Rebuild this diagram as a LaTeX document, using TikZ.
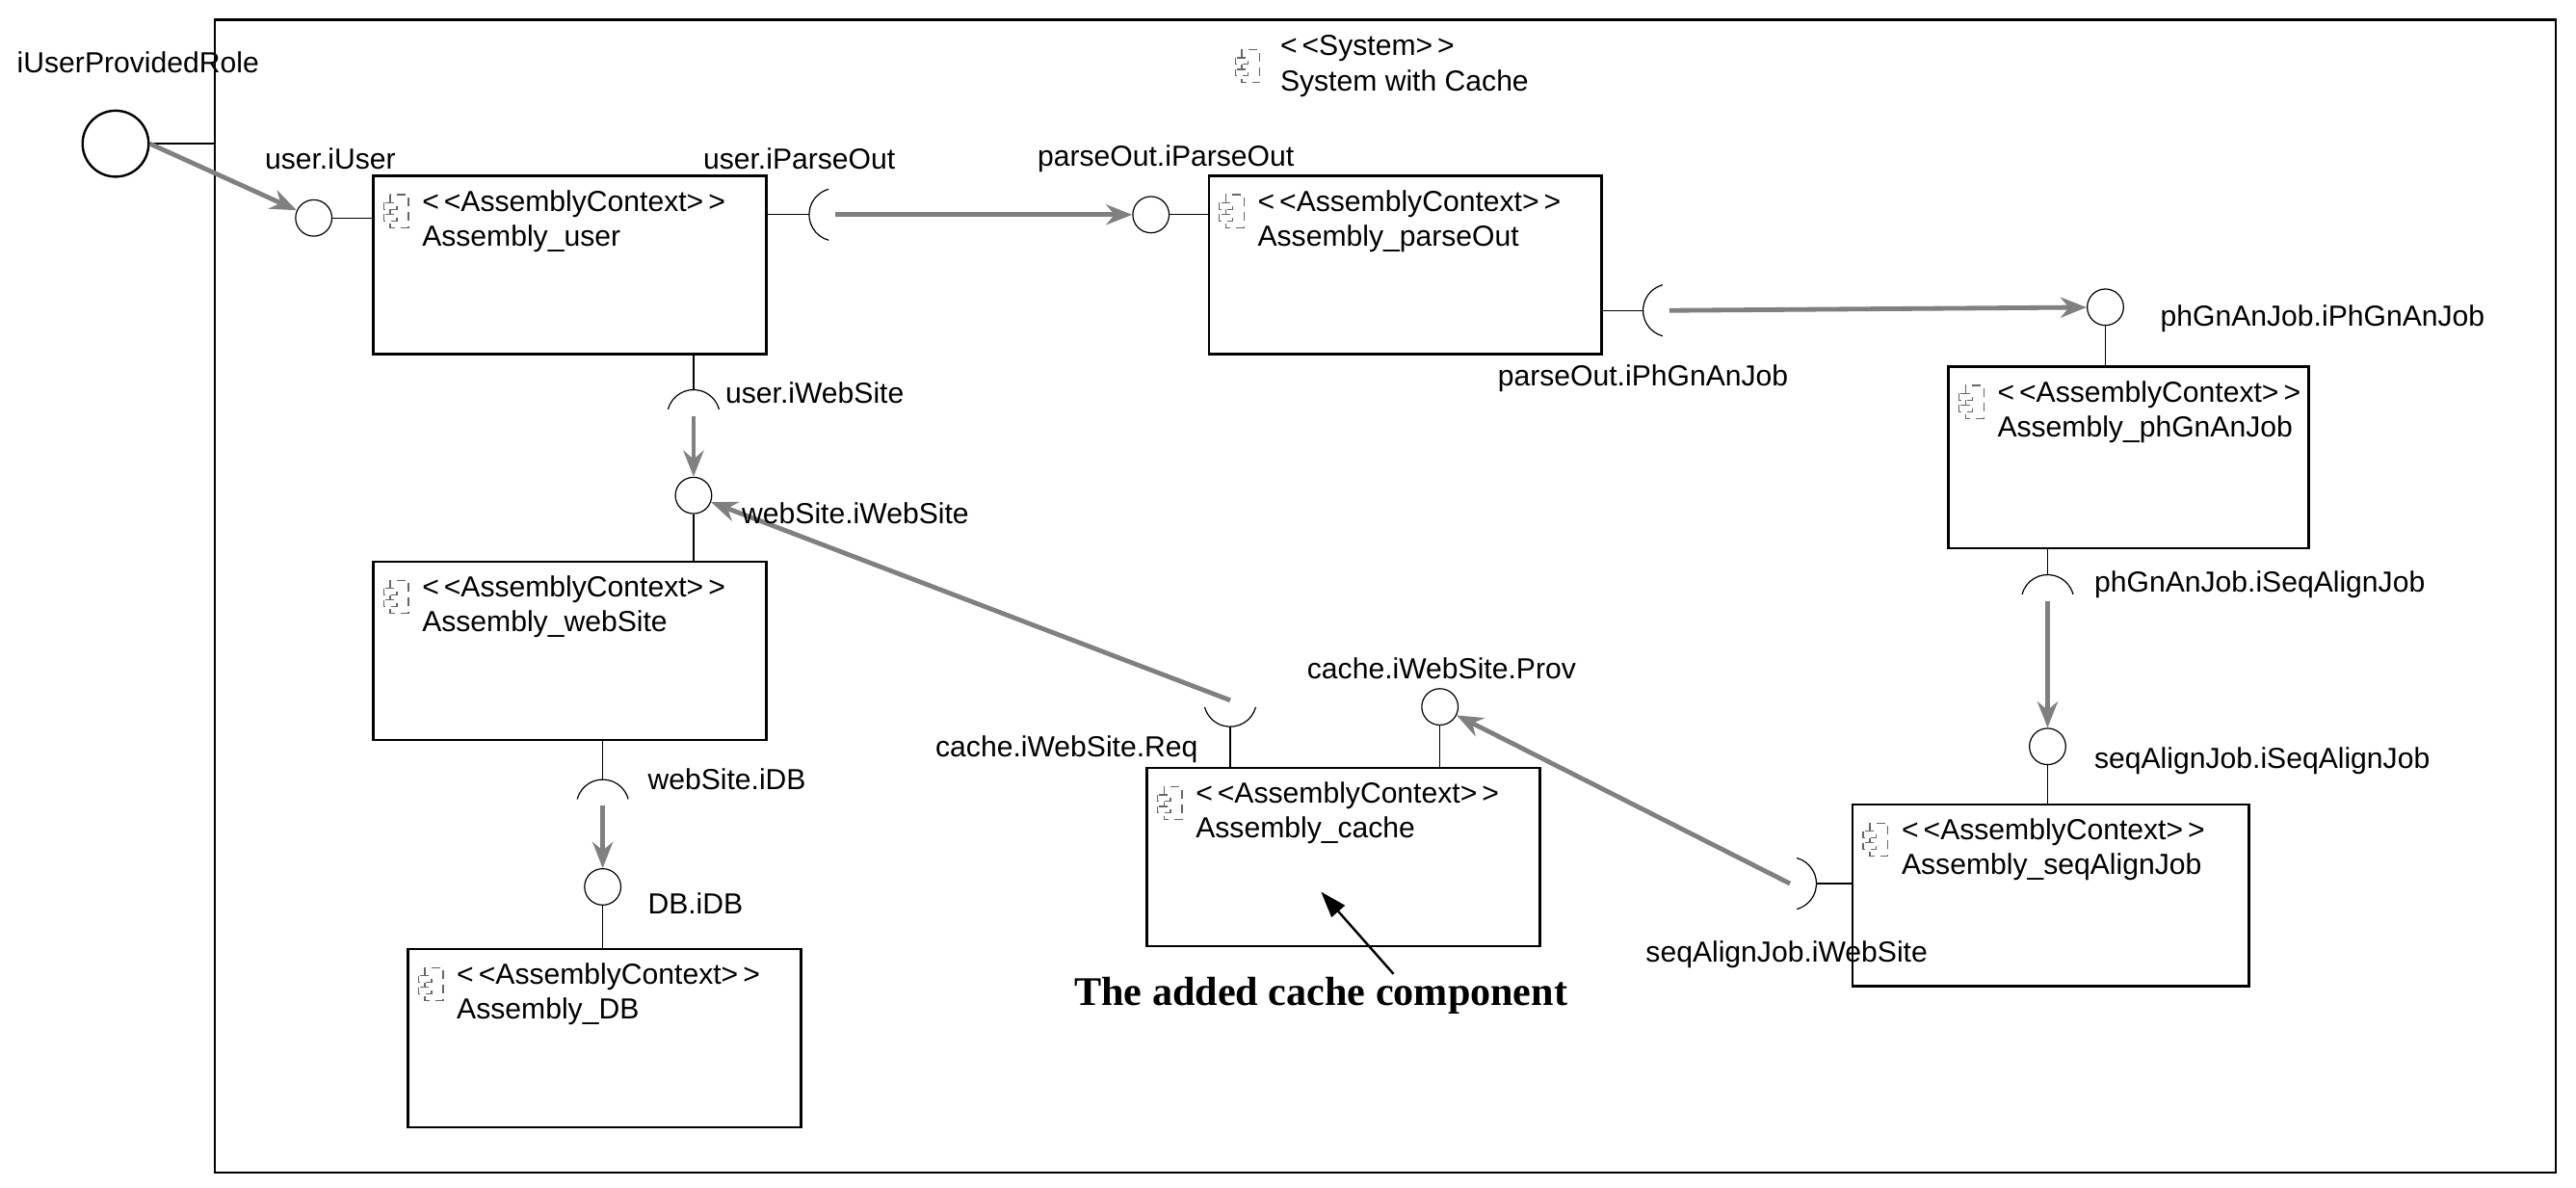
\documentclass[tikz,border=0pt]{standalone}
\usepackage{fontspec}
\setmainfont{Liberation Sans}
\newfontfamily\capserif{Liberation Serif}
\usetikzlibrary{arrows.meta}

% icon of an assembly context, #1 = name of its centre
\newcommand{\cmpicon}[1]{%
  \draw[black!60,densely dashed] ([shift={(-5,-10)}]#1) rectangle ([shift={(6,10)}]#1);
  \draw[black!60,densely dashed,fill=white] ([shift={(-9,-5)}]#1) rectangle ([shift={(-1,-1)}]#1);
  \draw[black!60,densely dashed,fill=white] ([shift={(-9,2)}]#1) rectangle ([shift={(-1,6)}]#1);}
% required role socket, #1 = centre, #2 = side of the box
\newcommand{\socket}[2]{%
  \draw ([shift={(#2-75:16)}]#1) arc[start angle=#2-75, end angle=#2+75, radius=16];}

\tikzset{
  ctx/.style={draw,thick,rectangle,minimum width=4.76cm,minimum height=2.16cm},
  prov/.style={draw,circle,minimum size=0.44cm,inner sep=0pt},
  lbl/.style={font=\fontsize{10}{12}\selectfont,inner sep=0pt},
  wire/.style={draw=gray,line width=1.6pt,-{Stealth[length=9pt,width=7pt]}}
}

\begin{document}
\begin{tikzpicture}[x=0.02cm,y=-0.02cm]
\useasboundingbox (0,0) rectangle (1560,719);
\node[draw,thick,minimum width=28.36cm,minimum height=13.96cm] (sys) at (839,361) {};
\coordinate (sysicon) at (757,40);
\cmpicon{sysicon}
\node[lbl,anchor=west,align=left] at (775,40) {<\,<System>\,>\\System with Cache};

% the assembly contexts
\node[ctx] (user) at (345,160.5) {};
\node[ctx] (parseOut) at (851,160.5) {};
\node[ctx,minimum width=4.36cm,minimum height=2.2cm] (phGnAnJob) at (1289,277) {};
\node[ctx,minimum width=4.8cm,minimum height=2.2cm] (seqAlignJob) at (1242,542) {};
\node[ctx] (cache) at (813.5,519) {};
\node[ctx] (webSite) at (345,394) {};
\node[ctx] (DB) at (366,628.5) {};
\foreach \b in {user,parseOut,phGnAnJob,seqAlignJob,cache,webSite,DB}{
  \coordinate (ic) at ([shift={(16,22)}]\b.north west);
  \cmpicon{ic}
  \node[lbl,anchor=north west,align=left] at ([shift={(30,9)}]\b.north west) {<\,<AssemblyContext>\,>\\Assembly\_\b};
}

% provided roles
\node[draw,thick,circle,minimum size=0.8cm,inner sep=0pt] (role) at (70,87) {};
\node[prov] (uIU) at (190,132) {};
\node[prov] (pIPO) at (697,130) {};
\node[prov] (pjIP) at (1275,186) {};
\node[prov] (sjISJ) at (1240,452) {};
\node[prov] (cIWP) at (872,428) {};
\node[prov] (wIW) at (420,300) {};
\node[prov] (dbIDB) at (365,537) {};
\draw[thick] (role.east) -- (role -| sys.west);
\draw (uIU.east) -- (uIU -| user.west);
\draw (pIPO.east) -- (pIPO -| parseOut.west);
\draw (pjIP.south) -- (pjIP |- phGnAnJob.north);
\draw (sjISJ.south) -- (sjISJ |- seqAlignJob.north);
\draw (cIWP.south) -- (cIWP |- cache.north);
\draw (wIW.south) -- (wIW |- webSite.north);
\draw (dbIDB.south) -- (dbIDB |- DB.north);

% required roles
\coordinate (uPO) at (506,130);
\coordinate (pPJ) at (1011,188);
\coordinate (phSJ) at (1240,364);
\coordinate (sjWS) at (1084,535);
\coordinate (cReq) at (745,424);
\coordinate (uWS) at (420,252);
\coordinate (wDB) at (365,488);
\socket{uPO}{180} \draw ([shift={(180:16)}]uPO) -- (uPO -| user.east);
\socket{pPJ}{180} \draw ([shift={(180:16)}]pPJ) -- (pPJ -| parseOut.east);
\socket{phSJ}{270} \draw ([shift={(270:16)}]phSJ) -- (phSJ |- phGnAnJob.south);
\socket{sjWS}{0} \draw ([shift={(0:16)}]sjWS) -- (sjWS -| seqAlignJob.west);
\socket{cReq}{90} \draw ([shift={(90:16)}]cReq) -- (cReq |- cache.north);
\socket{uWS}{270} \draw ([shift={(270:16)}]uWS) -- (uWS |- user.south);
\socket{wDB}{270} \draw ([shift={(270:16)}]wDB) -- (wDB |- webSite.south);

% connectors
\draw[wire] (role.east) -- (uIU);
\draw[wire] (uPO) -- (pIPO);
\draw[wire] (pPJ) -- (pjIP);
\draw[wire] (phSJ) -- (sjISJ);
\draw[wire] (sjWS) -- (cIWP);
\draw[wire] (cReq) -- (wIW);
\draw[wire] (uWS) -- (wIW);
\draw[wire] (wDB) -- (dbIDB);

% labels
\node[lbl,anchor=west] at (10,38) {iUserProvidedRole};
\node[lbl] at (200,96) {user.iUser};
\node[lbl] at (484,96) {user.iParseOut};
\node[lbl] at (706,96) {parseOut.iParseOut};
\node[lbl] at (995,229) {parseOut.iPhGnAnJob};
\node[lbl,anchor=west] at (1308,193) {phGnAnJob.iPhGnAnJob};
\node[lbl,anchor=west] at (439,238) {user.iWebSite};
\node[lbl,anchor=west] at (449,311) {webSite.iWebSite};
\node[lbl,anchor=west] at (1268,354) {phGnAnJob.iSeqAlignJob};
\node[lbl] at (873,405) {cache.iWebSite.Prov};
\node[lbl] at (646,454) {cache.iWebSite.Req};
\node[lbl,anchor=west] at (1268,461) {seqAlignJob.iSeqAlignJob};
\node[lbl,anchor=west] at (392,472) {webSite.iDB};
\node[lbl,anchor=west] at (392,547) {DB.iDB};
\node[lbl] at (1082,578) {seqAlignJob.iWebSite};

% note on the cache
\node[font=\capserif\bfseries\fontsize{14}{16}\selectfont,inner sep=1pt] (note) at (800,603) {The added cache component};
\coordinate (noteTip) at (800,540);
\draw[thick,-{Triangle[length=9pt,width=6pt]}] ([xshift=25]note.north) -- (noteTip);
\end{tikzpicture}
\end{document}
